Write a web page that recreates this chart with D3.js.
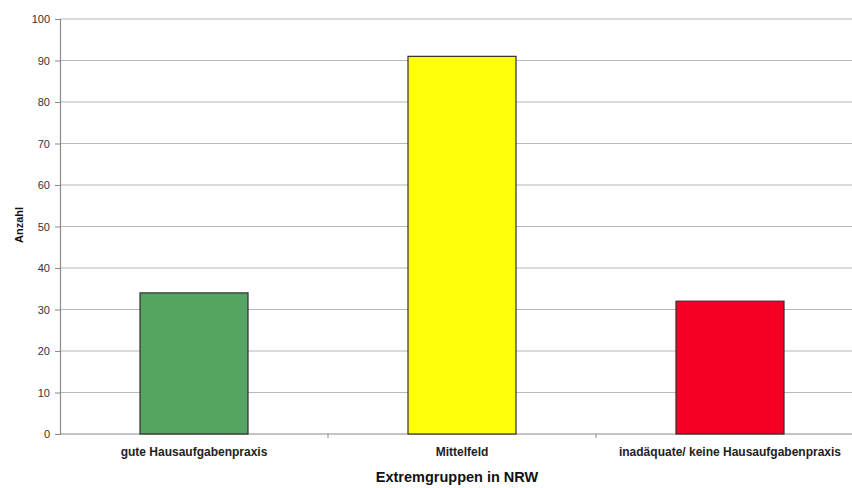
<!DOCTYPE html>
<html>
<head>
<meta charset="utf-8">
<script src="https://cdn.jsdelivr.net/npm/d3@7"></script>
<style>
  html, body { margin: 0; padding: 0; background: #fff; }
  svg { display: block; font-family: "Liberation Sans", Arial, sans-serif; }
</style>
</head>
<body>
<svg id="chart" width="852" height="488"></svg>
<script>
// Anzahl der Schüler je Extremgruppe
const categories = ["gute Hausaufgabenpraxis", "Mittelfeld", "inadäquate/ keine Hausaufgabenpraxis"];
const values = [34, 91, 32];
const barColors = ["#55a462", "#ffff0a", "#f50024"];
const yTicks = [0, 10, 20, 30, 40, 50, 60, 70, 80, 90, 100];

const svg = d3.select("#chart");
const plotLeft = 60, plotRight = 864, plotTop = 19, plotBottom = 434;

const x = d3.scaleBand().domain(categories).range([plotLeft, plotRight]).paddingInner(0.597).paddingOuter(0.2985);
const xBound = d3.scaleBand().domain(categories).range([plotLeft, plotRight]);
const y = d3.scaleLinear().domain([0, 100]).range([plotBottom, plotTop]);

// horizontal gridlines
svg.append("g").selectAll("line").data(yTicks.filter(d => d > 0)).join("line")
  .attr("x1", plotLeft).attr("x2", plotRight)
  .attr("y1", d => y(d)).attr("y2", d => y(d))
  .attr("stroke", "#b8b8b8").attr("stroke-width", 1.2);

// y axis
const yAxis = svg.append("g").attr("transform", `translate(${plotLeft},0)`)
  .call(d3.axisLeft(y).tickValues(yTicks).tickSize(5).tickPadding(5));
yAxis.select(".domain").attr("stroke", "#8a8a8a").attr("stroke-width", 1.2);
yAxis.selectAll(".tick line").attr("stroke", "#8a8a8a");
yAxis.selectAll(".tick text").attr("fill", "#333").style("font-size", "11px");

// x axis line and boundary ticks
svg.append("line").attr("x1", plotLeft).attr("x2", plotRight).attr("y1", plotBottom).attr("y2", plotBottom)
  .attr("stroke", "#8a8a8a").attr("stroke-width", 1.2);
svg.append("g").selectAll("line").data(categories.slice(1)).join("line")
  .attr("x1", d => xBound(d)).attr("x2", d => xBound(d))
  .attr("y1", plotBottom).attr("y2", plotBottom + 4)
  .attr("stroke", "#8a8a8a");

// bars
svg.append("g").selectAll("rect").data(values).join("rect")
  .attr("x", (d, i) => x(categories[i]))
  .attr("width", x.bandwidth())
  .attr("y", d => y(d))
  .attr("height", d => y(0) - y(d))
  .attr("fill", (d, i) => barColors[i])
  .attr("stroke", "#2e2e2e").attr("stroke-width", 1.2);

// category labels
svg.append("g").selectAll("text").data(categories).join("text")
  .attr("x", d => x(d) + x.bandwidth() / 2)
  .attr("y", 456)
  .attr("text-anchor", "middle")
  .attr("fill", "#222")
  .style("font-size", "12px").style("font-weight", "bold")
  .text(d => d);

// axis titles
svg.append("text").attr("x", (plotLeft + plotRight) / 2 - 5).attr("y", 482)
  .attr("text-anchor", "middle").attr("fill", "#111")
  .style("font-size", "14.5px").style("font-weight", "bold")
  .text("Extremgruppen in NRW");

svg.append("text").attr("transform", "translate(23,225) rotate(-90)")
  .attr("text-anchor", "middle").attr("fill", "#111")
  .style("font-size", "11px").style("font-weight", "bold")
  .text("Anzahl");
</script>
</body>
</html>
